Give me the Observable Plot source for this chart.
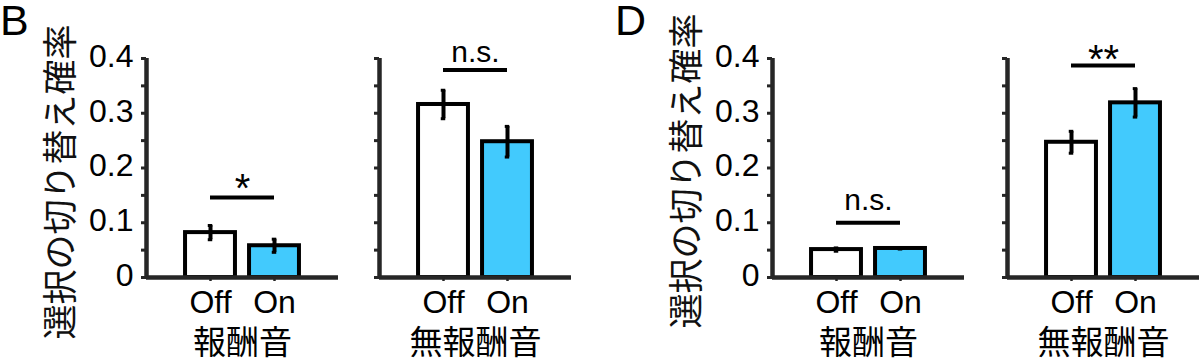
<!DOCTYPE html>
<html><head><meta charset="utf-8">
<script src="https://cdn.jsdelivr.net/npm/d3@7"></script>
<script src="https://cdn.jsdelivr.net/npm/@observablehq/plot@0.6"></script>
<style>
body{margin:0;background:#fff;}
#wrap{position:relative;width:1200px;height:359px;overflow:hidden;background:#fff;}
.panel{position:absolute;top:0;}
.letter{position:absolute;font-family:"Liberation Sans",Arial,sans-serif;font-size:43px;line-height:1;color:#000;}
</style></head><body>
<div id="wrap">
<div id="pB" class="panel" style="left:0px"></div>
<div id="pD" class="panel" style="left:600px"></div>
<div class="letter" style="left:0px;top:-1px">B</div>
<div class="letter" style="left:615px;top:-1px">D</div>
</div>
<script>
// ---- data ----
const conditions = ["報酬音", "無報酬音"];
const states = ["Off", "On"];
const yTicks = [0, 0.1, 0.2, 0.3, 0.4];
const yMinorTicks = [0, 0.05, 0.1, 0.15, 0.2, 0.25, 0.3, 0.35, 0.4];
const yLabel = "選択の切り替え確率";

// Panel B
const bOff = [0.082, 0.316];
const bOffErr = [0.013, 0.026];
const bOn = [0.058, 0.248];
const bOnErr = [0.012, 0.028];
const bSigLabel = ["*", "n.s."];
const bSigLineY = [0.146, 0.379];
const bSigTextY = [0.137, 0.393];

// Panel D
const dOff = [0.051, 0.247];
const dOffErr = [0.003, 0.020];
const dOn = [0.053, 0.319];
const dOnErr = [0.001, 0.026];
const dSigLabel = ["n.s.", "**"];
const dSigLineY = [0.100, 0.387];
const dSigTextY = [0.124, 0.373];

// ---- styles ----
const axisColor = "#262626";
const onColor = "#42CAFD";
const latin = "'Liberation Sans', Arial, sans-serif";
const cjk = "'Noto Sans CJK JP', sans-serif";

function panel(off, offErr, on, onErr, sigLabel, sigLineY, sigTextY, opts) {
  const rows = [];
  conditions.forEach((c, i) => {
    rows.push({cond: c, state: states[0], pos: 1, value: off[i], err: offErr[i]});
    rows.push({cond: c, state: states[1], pos: 2, value: on[i], err: onErr[i]});
  });
  const sig = conditions.map((c, i) => ({cond: c, label: sigLabel[i], lineY: sigLineY[i], textY: sigTextY[i]}));
  const isStar = d => d.label.startsWith("*");
  const labelData = [{cond: conditions[0], label: yLabel}];
  const hw = 0.39, cap = 0.035;
  return Plot.plot({
    width: 600,
    height: 359,
    marginLeft: opts.marginLeft,
    marginRight: opts.marginRight,
    marginTop: 58,
    marginBottom: 82,
    style: {background: "transparent", overflow: "visible", fontFamily: latin},
    fx: {domain: conditions, paddingInner: opts.pad, paddingOuter: 0},
    x: {domain: [0, 3]},
    y: {domain: [0, 0.4]},
    color: {domain: states, range: ["#ffffff", onColor]},
    marks: [
      Plot.rectY(rows, {fx: "cond", x1: d => d.pos - hw, x2: d => d.pos + hw, y1: 0, y2: "value", fill: "state", stroke: "#000", strokeWidth: 4}),
      Plot.ruleX(rows, {fx: "cond", x: "pos", y1: d => d.value - d.err, y2: d => d.value + d.err, stroke: "#000", strokeWidth: 4}),
      Plot.ruleY(rows, {fx: "cond", y: d => d.value + d.err, x1: d => d.pos - cap, x2: d => d.pos + cap, stroke: "#000", strokeWidth: 3}),
      Plot.ruleY(rows, {fx: "cond", y: d => d.value - d.err, x1: d => d.pos - cap, x2: d => d.pos + cap, stroke: "#000", strokeWidth: 3}),
      Plot.ruleX([0], {y1: 0, y2: 0.4, stroke: axisColor, strokeWidth: 4.5}),
      Plot.ruleY([0], {stroke: axisColor, strokeWidth: 4.5}),
      Plot.axisY({ticks: yMinorTicks, tickSize: 5, tickFormat: () => "", stroke: axisColor, strokeWidth: 3, facetAnchor: null, label: null}),
      Plot.axisY({ticks: yTicks, tickSize: 0, tickPadding: 13, dy: -2, tickFormat: d => d === 0 ? "0" : d3.format(".1f")(d), fontSize: 32, fill: "#000", label: null}),
      Plot.axisX({ticks: [1, 2], tickFormat: d => states[d - 1], tickSize: 4, tickPadding: 9, fontSize: 32, fill: "#000", stroke: axisColor, strokeWidth: 2.5, label: null}),
      Plot.axisFx({anchor: "bottom", tickSize: 0, tickPadding: 53, fontSize: 33, fontFamily: cjk, fill: "#000", label: null}),
      Plot.text(labelData, {fx: "cond", text: "label", frameAnchor: "left", textAnchor: "middle", rotate: -90, dx: -85, dy: opts.labelDy, fontSize: 35, fontFamily: cjk, fill: "#111"}),
      Plot.ruleY(sig, {fx: "cond", y: "lineY", x1: 1, x2: 2, stroke: "#000", strokeWidth: 4}),
      Plot.text(sig.filter(d => !isStar(d)), {fx: "cond", x: 1.5, y: "textY", text: "label", lineAnchor: "bottom", fontSize: 30, fontFamily: latin, fill: "#000"}),
      Plot.text(sig.filter(isStar), {fx: "cond", x: 1.5, y: "textY", text: "label", lineAnchor: "bottom", fontSize: 40, fontFamily: latin, fill: "#000"})
    ]
  });
}

document.getElementById("pB").append(panel(bOff, bOffErr, bOn, bOnErr, bSigLabel, bSigLineY, bSigTextY, {marginLeft: 146, marginRight: 29, pad: 0.176, labelDy: 14}));
document.getElementById("pD").append(panel(dOff, dOffErr, dOn, dOnErr, dSigLabel, dSigLineY, dSigTextY, {marginLeft: 172, marginRight: 1, pad: 0.183, labelDy: 3}));
</script>
</body></html>
